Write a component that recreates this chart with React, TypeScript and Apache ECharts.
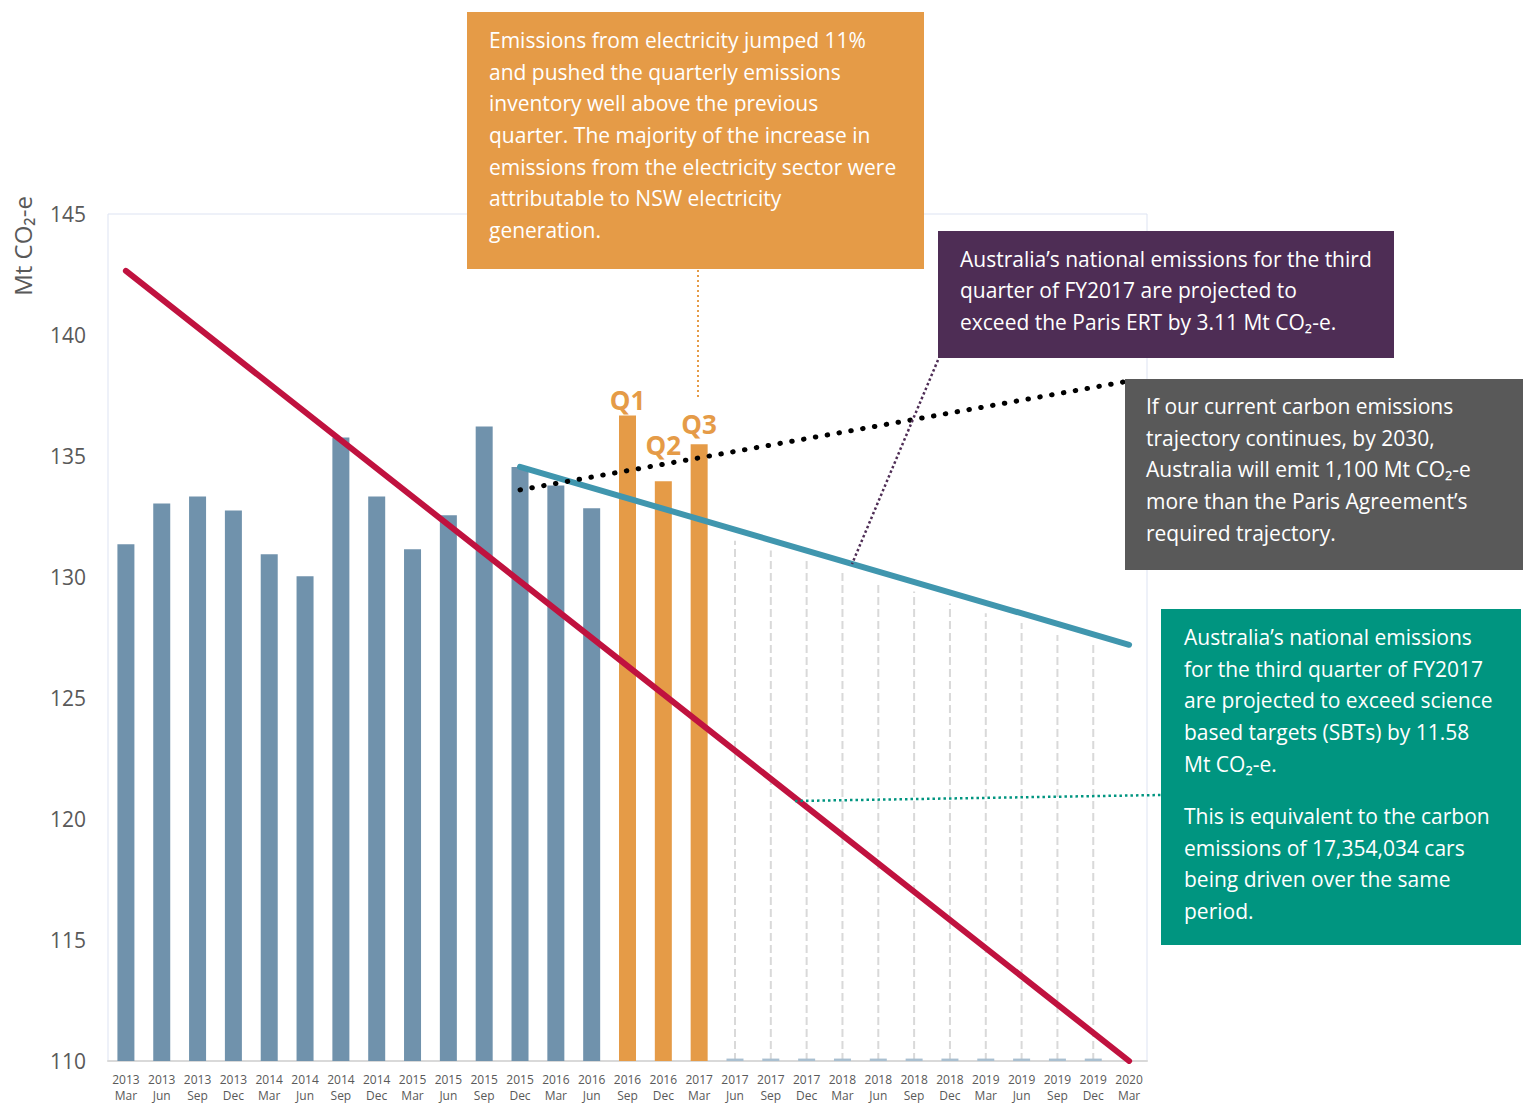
import React, { useEffect, useRef } from 'react';
import * as echarts from 'echarts';

const categories = [
  '2013\nMar', '2013\nJun', '2013\nSep', '2013\nDec',
  '2014\nMar', '2014\nJun', '2014\nSep', '2014\nDec',
  '2015\nMar', '2015\nJun', '2015\nSep', '2015\nDec',
  '2016\nMar', '2016\nJun', '2016\nSep', '2016\nDec',
  '2017\nMar', '2017\nJun', '2017\nSep', '2017\nDec',
  '2018\nMar', '2018\nJun', '2018\nSep', '2018\nDec',
  '2019\nMar', '2019\nJun', '2019\nSep', '2019\nDec',
  '2020\nMar',
];

// Quarterly inventory (Mt CO2-e), 2013 Mar – 2016 Jun
const actualValues = [131.35, 133.04, 133.33, 132.75, 130.94, 130.03, 135.76, 133.33, 131.15, 132.55, 136.22, 134.55, 133.78, 132.84];
// Highlighted quarters of FY2017 (2016 Sep, 2016 Dec, 2017 Mar)
const quarterValues = [136.67, 133.96, 135.49];
const quarterLabels = ['Q1', 'Q2', 'Q3'];
// Projected values along Paris trajectory, 2017 Jun – 2020 Mar
const projectedValues = [131.5, 131.1, 130.7, 130.2, 129.8, 129.4, 128.9, 128.5, 128.1, 127.6, 127.2];
const noDataStub = 110.1;

// Trajectory lines (endpoints)
const sbtLine = [['2013\nMar', 142.65], ['2020\nMar', 110]];
const parisLine = [['2015\nDec', 134.55], ['2020\nMar', 127.2]];
const currentTrajectory = [['2015\nDec', 133.6], ['2020\nMar', 138.1]];

const yMin = 110;
const yMax = 145;
const yInterval = 5;

const BLUE = '#7092ac';
const ORANGE = '#e59b47';
const RED = '#c0123f';
const TEAL_LINE = '#4096ae';
const PURPLE = '#4e2d55';
const GREY = '#595959';
const GREEN = '#009580';
const FONT = 'Open Sans';

const orangeText = [
  'Emissions from electricity jumped 11%',
  'and pushed the quarterly emissions',
  'inventory well above the previous',
  'quarter. The majority of the increase in',
  'emissions from the electricity sector were',
  'attributable to NSW electricity',
  'generation.',
].join('\n');

const purpleText = [
  'Australia’s national emissions for the third',
  'quarter of FY2017 are projected to',
  'exceed the Paris ERT by 3.11 Mt CO₂-e.',
].join('\n');

const greyText = [
  'If our current carbon emissions',
  'trajectory continues, by 2030,',
  'Australia will emit 1,100 Mt CO₂-e',
  'more than the Paris Agreement’s',
  'required trajectory.',
].join('\n');

const greenText1 = [
  'Australia’s national emissions',
  'for the third quarter of FY2017',
  'are projected to exceed science',
  'based targets (SBTs) by 11.58',
  'Mt CO₂-e.',
].join('\n');

const greenText2 = [
  'This is equivalent to the carbon',
  'emissions of 17,354,034 cars',
  'being driven over the same',
  'period.',
].join('\n');

export default function App() {
  const ref = useRef<HTMLDivElement>(null);

  useEffect(() => {
    if (!ref.current) return;
    const chart = echarts.init(ref.current, undefined, { renderer: 'svg' });

    const qOffsets = [[0, 0], [0, -20], [0, -4]];
    const barData: any[] = [
      ...actualValues.map((v) => ({ value: v, itemStyle: { color: BLUE } })),
      ...quarterValues.map((v, i) => ({
        value: v,
        itemStyle: { color: ORANGE },
        label: {
          show: true,
          position: 'top',
          distance: 3,
          offset: qOffsets[i],
          formatter: quarterLabels[i],
          color: ORANGE,
          fontSize: 26,
          fontWeight: 'bold',
          fontFamily: FONT,
        },
      })),
      ...projectedValues.map(() => ({ value: noDataStub, itemStyle: { color: '#a9bfd0' } })),
    ];

    const projStart = actualValues.length + quarterValues.length;
    const projData = projectedValues.map((v, i) => [projStart + i, v]);

    const textStyle = (size: number, lh: number) => ({
      fill: '#ffffff',
      fontSize: size,
      fontFamily: FONT,
      lineHeight: lh,
      align: 'left',
      verticalAlign: 'top',
    });

    const option: any = {
      animation: false,
      backgroundColor: '#ffffff',
      grid: {
        left: 108,
        right: 380,
        top: 214,
        bottom: 40,
        show: true,
        borderColor: '#dde3f2',
        borderWidth: 1,
        backgroundColor: 'transparent',
      },
      xAxis: {
        type: 'category',
        data: categories,
        axisLine: { show: true, lineStyle: { color: '#d9d9d9', width: 2 } },
        axisTick: { show: false },
        axisLabel: {
          color: GREY,
          fontSize: 12,
          fontFamily: FONT,
          lineHeight: 16,
          margin: 10,
          interval: 0,
        },
      },
      yAxis: {
        type: 'value',
        min: yMin,
        max: yMax,
        interval: yInterval,
        splitLine: { show: false },
        axisLine: { show: false },
        axisTick: { show: false },
        axisLabel: { color: GREY, fontSize: 21, fontFamily: FONT, margin: 22 },
      },
      series: [
        {
          type: 'custom',
          name: 'projection',
          z: 1,
          data: projData,
          encode: { x: 0, y: 1 },
          renderItem: (params: any, api: any) => {
            const idx = api.value(0);
            const v = api.value(1);
            const p0 = api.coord([idx, yMin]);
            const p1 = api.coord([idx, v]);
            return {
              type: 'line',
              shape: { x1: p0[0], y1: p0[1], x2: p1[0], y2: p1[1] },
              style: { stroke: '#d9d9d9', lineWidth: 2, lineDash: [8, 4] },
            };
          },
        },
        {
          type: 'bar',
          name: 'emissions',
          z: 2,
          barWidth: 17,
          data: barData,
        },
        {
          type: 'line',
          name: 'SBT',
          z: 3,
          data: sbtLine,
          symbol: 'none',
          lineStyle: { color: RED, width: 6, cap: 'round' },
        },
        {
          type: 'line',
          name: 'Paris',
          z: 3,
          data: parisLine,
          symbol: 'none',
          lineStyle: { color: TEAL_LINE, width: 6, cap: 'round' },
        },
        {
          type: 'line',
          name: 'Current',
          z: 4,
          data: currentTrajectory,
          symbol: 'none',
          lineStyle: { color: '#000000', width: 5, type: [0.5, 11.5], cap: 'round' },
        },
      ],
      graphic: [
        {
          type: 'text',
          x: 22,
          y: 246,
          rotation: Math.PI / 2,
          z: 100,
          style: {
            text: 'Mt CO₂-e',
            fill: GREY,
            fontSize: 24,
            fontFamily: FONT,
            align: 'center',
            verticalAlign: 'middle',
          },
        },
        // leader lines
        {
          type: 'line',
          z: 50,
          shape: { x1: 698, y1: 270, x2: 698, y2: 400 },
          style: { stroke: ORANGE, lineWidth: 2, lineDash: [2, 3] },
        },
        {
          type: 'line',
          z: 50,
          shape: { x1: 938, y1: 360, x2: 852, y2: 564 },
          style: { stroke: PURPLE, lineWidth: 2.5, lineDash: [2.5, 2.5] },
        },
        {
          type: 'line',
          z: 50,
          shape: { x1: 795, y1: 801, x2: 1161, y2: 795 },
          style: { stroke: GREEN, lineWidth: 2.5, lineDash: [2.5, 3] },
        },
        // boxes
        { type: 'rect', z: 100, shape: { x: 467, y: 12, width: 457, height: 257 }, style: { fill: ORANGE } },
        { type: 'text', z: 101, x: 489, y: 24, style: { text: orangeText, ...textStyle(21, 31.7) } },
        { type: 'rect', z: 100, shape: { x: 938, y: 231, width: 456, height: 127 }, style: { fill: PURPLE } },
        { type: 'text', z: 101, x: 960, y: 243, style: { text: purpleText, ...textStyle(21, 31.6) } },
        { type: 'rect', z: 100, shape: { x: 1125, y: 379, width: 398, height: 191 }, style: { fill: GREY } },
        { type: 'text', z: 101, x: 1146, y: 390, style: { text: greyText, ...textStyle(21, 31.7) } },
        { type: 'rect', z: 100, shape: { x: 1161, y: 609, width: 360, height: 336 }, style: { fill: GREEN } },
        { type: 'text', z: 101, x: 1184, y: 621, style: { text: greenText1, ...textStyle(21, 31.7) } },
        { type: 'text', z: 101, x: 1184, y: 800, style: { text: greenText2, ...textStyle(21, 31.7) } },
      ],
    };

    chart.setOption(option);
    return () => chart.dispose();
  }, []);

  return (
    <div
      ref={ref}
      style={{ position: 'absolute', left: 0, top: 0, width: 1527, height: 1103 }}
    />
  );
}
